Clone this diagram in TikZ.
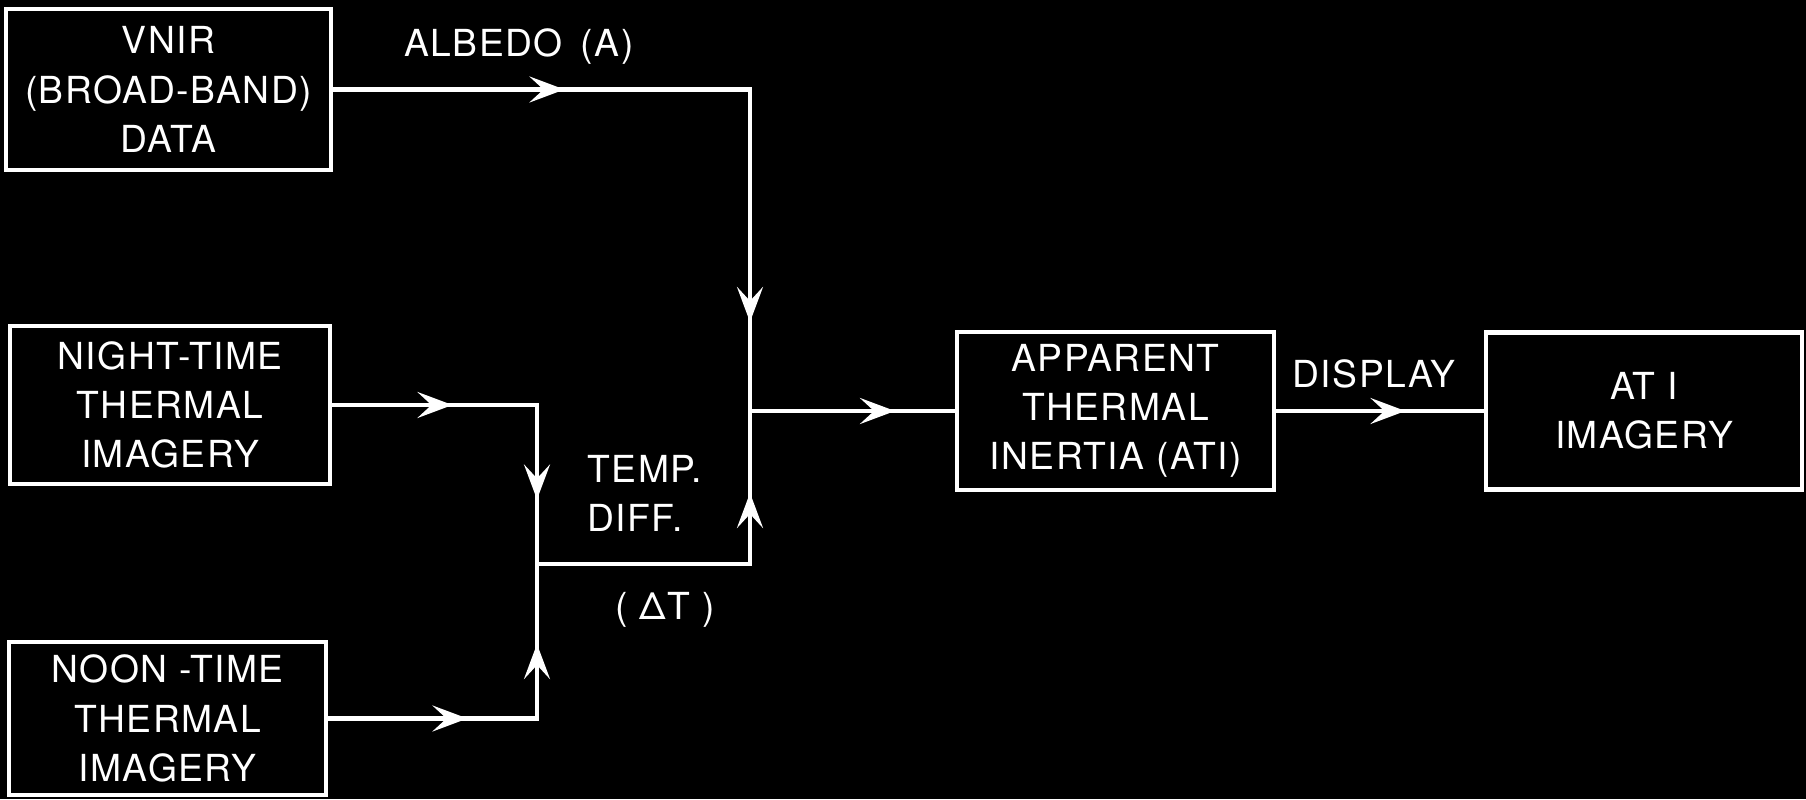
\documentclass[tikz,border=0pt]{standalone}
\usepackage{fontspec}
\setmainfont{TeX Gyre Heros}[LetterSpace=4]
\usepackage{tikz}
\usetikzlibrary{arrows.meta,positioning,decorations.markings}

\begin{document}
\begin{tikzpicture}[
  every node/.style={text=white,font=\fontsize{10.6}{14}\selectfont},
  blk/.style={draw=white,line width=1.4pt,align=center,inner sep=0pt},
  wire/.style={draw=white,line width=1.2pt},
  tipat/.style={postaction={decorate,decoration={markings,
    mark=at position #1 with {\arrow{Stealth[length=3.5mm,width=2.6mm,inset=1.4mm]}}}}}]
\fill[black] (0,0) rectangle (18.06,7.99);
\useasboundingbox (0,0) rectangle (18.06,7.99);
\node[blk,minimum width=3.25cm,minimum height=1.61cm] (vnir) at (1.685,7.095) {VNIR\\(BROAD-BAND)\\DATA};
\node[blk,minimum width=3.20cm,minimum height=1.58cm] (night) at (1.70,3.94) {NIGHT-TIME\\THERMAL\\IMAGERY};
\node[blk,minimum width=3.17cm,minimum height=1.53cm] (noon) at (1.675,0.805) {NOON -TIME\\THERMAL\\IMAGERY};
\node[blk,minimum width=3.17cm,minimum height=1.58cm] (ati) at (11.155,3.88) {APPARENT\\THERMAL\\INERTIA (ATI)};
\node[blk,minimum width=3.16cm,minimum height=1.57cm] (atiimg) at (16.44,3.88) {AT I\\IMAGERY};
\coordinate (dtjoin) at (5.37,2.35);
\coordinate (topjoin) at (7.50,3.88);
\draw[wire,tipat=2.31cm,tipat=6.49cm] (vnir.east) -| (topjoin);
\draw[wire,tipat=1.20cm,tipat=2.99cm] (night.east) -| (dtjoin);
\draw[wire,tipat=1.39cm,tipat=2.83cm] (noon.east) -| (dtjoin);
\draw[wire,tipat=2.84cm] (dtjoin) -| (topjoin);
\draw[wire,tipat=1.45cm] (topjoin) -- (ati.west);
\draw[wire,tipat=1.29cm] (ati.east) -- (atiimg.west);
\node (albedo) at (5.19,7.52) {ALBEDO \,(A)};
\node[align=left,anchor=west] (tempdiff) at (5.75,3.055) {TEMP.\\DIFF.};
\node (deltat) at (6.65,1.89) {( ΔT )};
\node (display) at (13.74,4.25) {DISPLAY};
\end{tikzpicture}
\end{document}
